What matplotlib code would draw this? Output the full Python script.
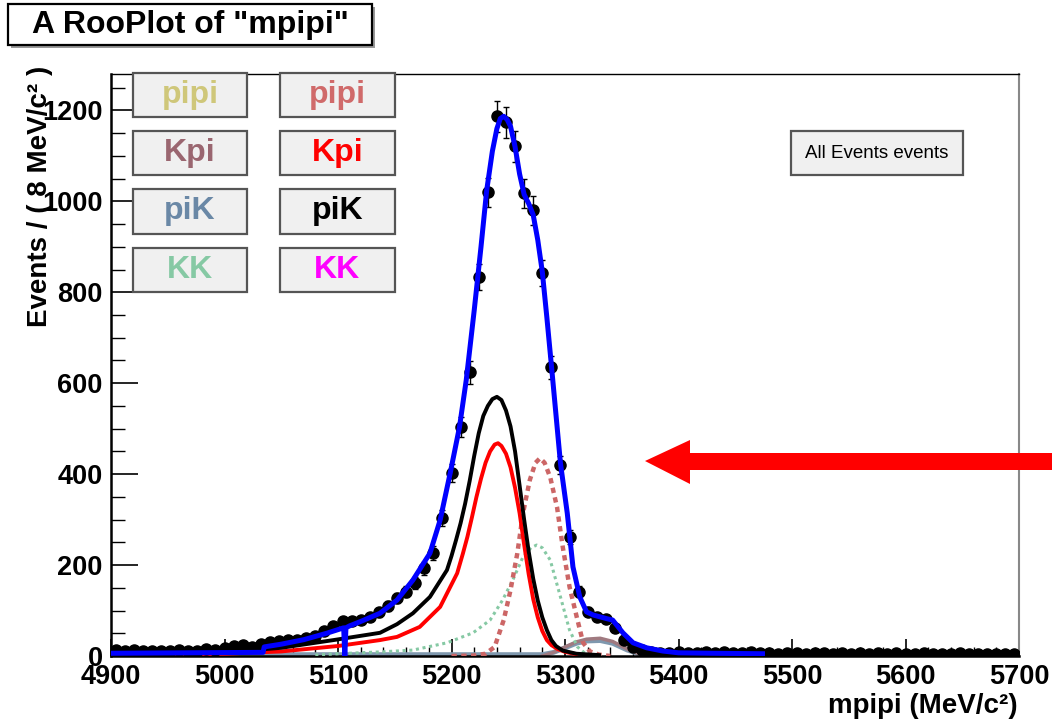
import numpy as np
import matplotlib
matplotlib.use("Agg")
import matplotlib.pyplot as plt
from matplotlib.patches import Rectangle, Polygon
from matplotlib.ticker import MultipleLocator

plt.rcParams['font.family'] = ['Liberation Sans', 'DejaVu Sans']

# binned data, 8 MeV bins from 4900 to 5700
bin_lo = 4900
bin_w = 8
counts = [14, 12, 13, 10, 12, 11, 10, 13, 12, 11,
          16, 14, 18, 22, 24, 20, 26, 30, 34, 36,
          35, 40, 44, 55, 66, 76, 78, 80, 86, 96,
          110, 127, 141, 160, 193, 226, 303, 402, 503, 624,
          833, 1020, 1187, 1174, 1121, 1018, 980, 842, 635, 420,
          262, 141, 97, 86, 81, 62, 35, 20, 13, 9,
          7, 6, 8, 7, 6, 8, 7, 9, 6, 7,
          8, 6, 7, 5, 6, 7, 5, 6, 7, 5,
          6, 5, 6, 4, 6, 5, 6, 5, 4, 6,
          5, 4, 5, 6, 4, 5, 4, 5, 4, 5]

# total fit (blue)
tot_x = [4900, 5034, 5035, 5050, 5070, 5090, 5100, 5105, 5106, 5107, 5110, 5120, 5137,
         5152, 5166, 5181, 5190, 5199, 5207, 5213, 5220, 5226, 5231, 5236, 5240, 5243,
         5246, 5249, 5252, 5256, 5260, 5264, 5268, 5272, 5276, 5280, 5284, 5289, 5296,
         5302, 5307, 5313, 5319, 5325, 5331, 5337, 5342, 5351, 5360, 5372, 5386, 5400,
         5430, 5474]
tot_y = [6, 8, 20, 26, 36, 50, 58, 62, 0, 62, 66, 76, 94,
         123, 167, 226, 299, 404, 503, 607, 760, 900, 1024, 1110, 1160, 1182,
         1187, 1180, 1165, 1120, 1060, 1015, 995, 970, 915, 845, 745, 613, 424,
         314, 196, 130, 97, 90, 86, 82, 79, 51, 29, 18, 11, 7,
         6, 5]

# piK (black)
pik_x = [4900, 4950, 5000, 5050, 5096, 5137, 5152, 5166, 5181, 5196, 5200, 5204, 5208,
         5212, 5216, 5220, 5224, 5228, 5232, 5236, 5240, 5244, 5248, 5252, 5256, 5260,
         5264, 5268, 5272, 5276, 5280, 5284, 5288, 5292, 5298, 5310, 5330]
pik_y = [3, 5, 8, 18, 35, 51, 70, 94, 130, 189, 220, 255, 292,
         335, 385, 440, 490, 528, 550, 565, 570, 563, 540, 505, 450, 375,
         300, 230, 170, 122, 85, 57, 35, 22, 12, 5, 2]

# Kpi (red)
kpi_x = [4900, 5000, 5050, 5100, 5137, 5152, 5172, 5190, 5205, 5210, 5214, 5218, 5222,
         5226, 5230, 5234, 5238, 5241, 5244, 5248, 5252, 5256, 5260, 5264, 5268, 5272,
         5276, 5280, 5284, 5288, 5293, 5300, 5310]
kpi_y = [2, 5, 10, 22, 35, 42, 64, 108, 182, 225, 262, 305, 350,
         390, 425, 450, 465, 468, 462, 445, 415, 370, 314, 245, 180, 125,
         85, 55, 35, 24, 16, 9, 4]

# pipi (dashed)
pipi_x = [5200, 5220, 5230, 5238, 5246, 5252, 5258, 5263, 5269, 5274, 5278, 5282,
          5287, 5293, 5298, 5304, 5311, 5316, 5322, 5330, 5340]
pipi_y = [0, 1, 5, 20, 79, 145, 226, 314, 387, 425, 435, 425,
          393, 327, 240, 152, 79, 29, 10, 3, 0]

# KK (dotted)
kk_x = [5080, 5100, 5137, 5166, 5196, 5219, 5234, 5245, 5254, 5263, 5270, 5275,
        5280, 5287, 5296, 5304, 5311, 5318, 5325]
kk_y = [2, 5, 9, 13, 29, 51, 79, 123, 167, 218, 238, 244,
        238, 211, 130, 57, 20, 5, 1]

# small bump components near 5330
bump1_x = [4900, 5280, 5290, 5302, 5310, 5319, 5331, 5342, 5355, 5365, 5380, 5700]
bump1_y = [3, 3, 8, 20, 28, 33, 34, 28, 13, 5, 3, 3]
bump2_x = [5280, 5290, 5302, 5310, 5319, 5331, 5342, 5355, 5365, 5380]
bump2_y = [0, 8, 22, 31, 37, 39, 32, 15, 5, 0]

legend_left = ['pipi', 'Kpi', 'piK', 'KK']
colors_left = ['#cfc77a', '#9a6670', '#6a88a6', '#86c9a4']
legend_right = ['pipi', 'Kpi', 'piK', 'KK']
colors_right = ['#d06a6a', '#ff0000', '#000000', '#ff00ff']

W, H = 1052, 719
fig = plt.figure(figsize=(W / 100, H / 100), dpi=100)
fig.patch.set_facecolor('white')
ax = fig.add_axes([111 / W, 1 - 656 / H, (1019 - 111) / W, (656 - 74) / H])

centers = bin_lo + bin_w / 2 + bin_w * np.arange(len(counts))
counts = np.array(counts)

ax.plot(bump1_x, bump1_y, color='#7f98ae', lw=3.5, zorder=2)
ax.plot(bump2_x, bump2_y, color='#a07a80', lw=2.5, zorder=2)
ax.plot(kk_x, kk_y, color='#86c9a4', lw=2.2, ls=(0, (1, 1.2)), zorder=3)
ax.plot(pipi_x, pipi_y, color='#cc6666', lw=3.2, ls=(0, (1.2, 1.0)), zorder=3)
ax.plot(kpi_x, kpi_y, color='#ff0000', lw=2.8, zorder=3)
ax.plot(pik_x, pik_y, color='black', lw=2.8, zorder=3)
ax.errorbar(centers, counts, yerr=np.sqrt(counts), fmt='o', color='black',
            ms=8, elinewidth=1, capsize=2, capthick=1, zorder=4)
ax.plot(tot_x, tot_y, color='#0000ff', lw=3.6, zorder=5)

ax.set_xlim(4900, 5700)
ax.set_ylim(0, 1280)
ax.xaxis.set_major_locator(MultipleLocator(100))
ax.xaxis.set_minor_locator(MultipleLocator(20))
ax.yaxis.set_major_locator(MultipleLocator(200))
ax.yaxis.set_minor_locator(MultipleLocator(50))
ax.tick_params(axis='x', which='major', direction='in', length=12.6, width=1.2, pad=6,
               labelsize=19.5, top=False)
ax.tick_params(axis='x', which='minor', direction='in', length=6.3, width=1.0, top=False)
ax.tick_params(axis='y', which='major', direction='in', length=19.6, width=1.2, pad=6,
               labelsize=19.5, right=False)
ax.tick_params(axis='y', which='minor', direction='in', length=9.8, width=1.0, right=False)
for lab in ax.get_xticklabels() + ax.get_yticklabels():
    lab.set_fontweight('bold')
ax.spines['left'].set_linewidth(1.8)
ax.spines['bottom'].set_linewidth(1.8)
ax.spines['top'].set_linewidth(1.0)
ax.spines['right'].set_color('#888888')
ax.spines['right'].set_linewidth(1.5)

fig.text(40 / W, 1 - 66 / H, 'Events / ( 8 MeV/c² )', rotation=90, ha='center', va='top',
         fontsize=20, fontweight='bold')
fig.text(1018 / W, 1 - 706 / H, 'mpipi (MeV/c²)', ha='right', va='center',
         fontsize=20, fontweight='bold')


def box(x0, y0, x1, y1, text, color, size, weight, face='#f0f0f0', edge='#555555', shadow=False):
    if shadow:
        fig.add_artist(Rectangle(((x0 + 3) / W, 1 - (y1 + 3) / H), (x1 - x0) / W, (y1 - y0) / H,
                                 transform=fig.transFigure, fc='#999999', ec='none', zorder=9))
    fig.add_artist(Rectangle((x0 / W, 1 - y1 / H), (x1 - x0) / W, (y1 - y0) / H,
                             transform=fig.transFigure, fc=face, ec=edge, lw=1.6, zorder=10))
    fig.text((x0 + x1) / 2 / W, 1 - (y0 + y1) / 2 / H, text, ha='center', va='center',
             color=color, fontsize=size, fontweight=weight, zorder=11)


box(8, 4, 372, 45, 'A RooPlot of "mpipi"', 'black', 23, 'bold', face='white', edge='black', shadow=True)

rows = [(73, 117), (131, 175), (189, 234), (248, 292)]
for (y0, y1), t, c in zip(rows, legend_left, colors_left):
    box(133, y0, 247, y1, t, c, 23, 'bold')
for (y0, y1), t, c in zip(rows, legend_right, colors_right):
    box(280, y0, 395, y1, t, c, 23, 'bold')

box(791, 131, 963, 175, 'All Events events', 'black', 13.5, 'normal')

# red arrow annotation
arrow = [(1060, 453), (690, 453), (690, 440), (645, 461), (690, 484), (690, 470), (1060, 470)]
fig.add_artist(Polygon([(x / W, 1 - y / H) for x, y in arrow], closed=True,
                       transform=fig.transFigure, fc='#ff0000', ec='none', zorder=12))

fig.savefig('out.png', dpi=100)
